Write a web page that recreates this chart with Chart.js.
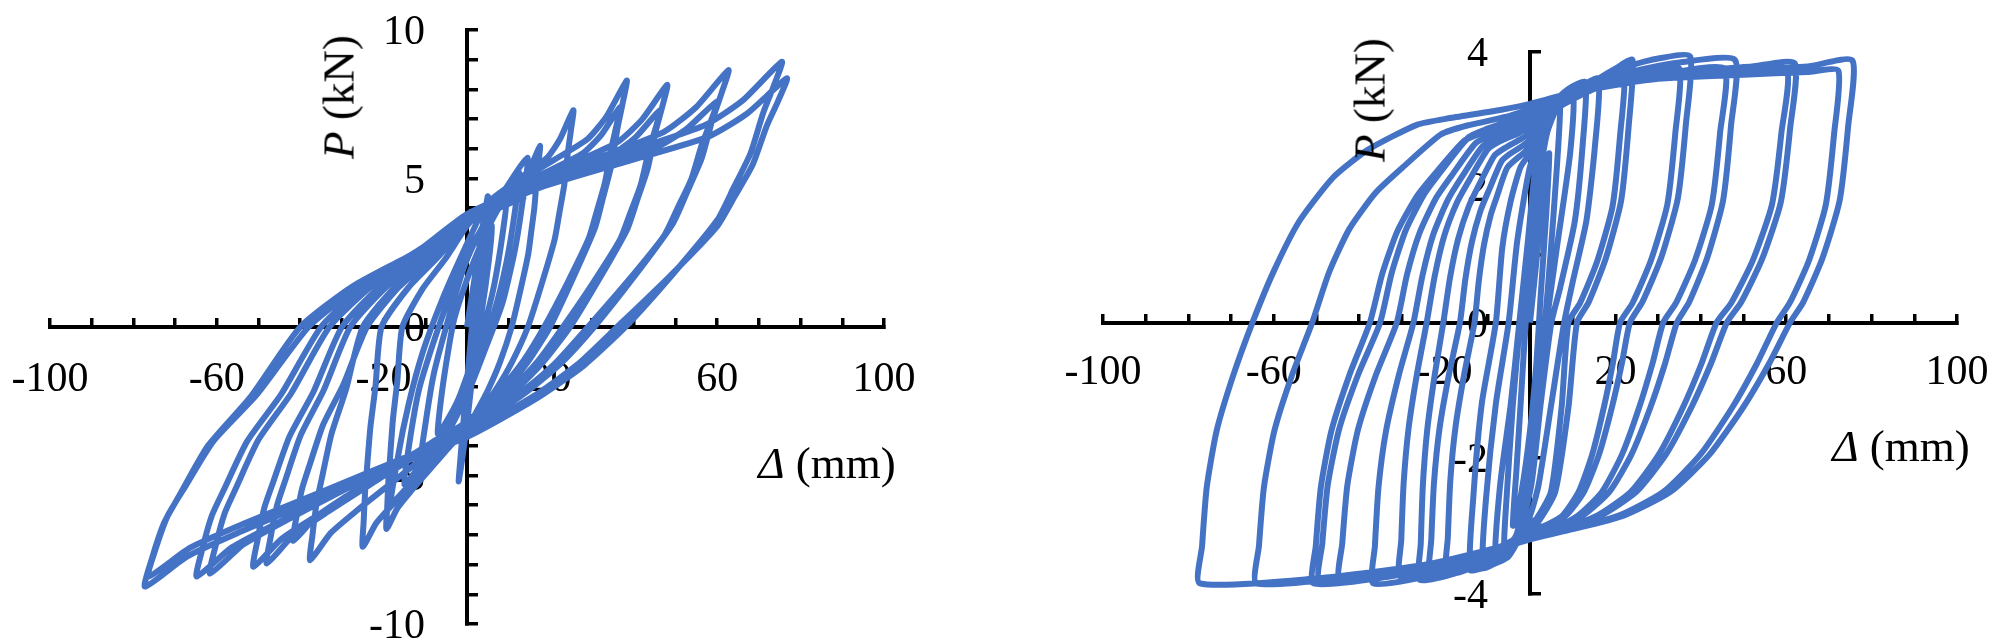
<!DOCTYPE html>
<html>
<head>
<meta charset="utf-8">
<script src="https://cdn.jsdelivr.net/npm/chart.js@4.4.1/dist/chart.umd.min.js"></script>
<style>
html,body{margin:0;padding:0;width:2000px;height:644px;overflow:hidden;background:#fff;}
.wrap{position:absolute;}
canvas{display:block;}
.t{position:absolute;font-family:'Liberation Serif','Times New Roman',serif;font-size:45px;color:#000;white-space:nowrap;line-height:1;transform:translate(-50%,-50%);}
.rot{transform:translate(-50%,-50%) rotate(-90deg);}
</style>
</head>
<body>
<div class="wrap" style="left:-100px;top:-100px;width:1200px;height:844px"><canvas id="chartA" width="1200" height="844"></canvas></div>
<div class="wrap" style="left:900px;top:-100px;width:1200px;height:844px"><canvas id="chartB" width="1200" height="844"></canvas></div>
<div class="t rot" style="left:339px;top:97px"><i>P</i> (kN)</div>
<div class="t" style="left:827px;top:463px"><i>Δ</i> (mm)</div>
<div class="t rot" style="left:1370px;top:100px"><i>P</i> (kN)</div>
<div class="t" style="left:1901px;top:446px"><i>Δ</i> (mm)</div>
<script>
// ---- tick labels ----
const xTickLabels = [-100, -60, -20, 20, 60, 100];
const yTickLabelsA = [-10, -5, 0, 5, 10];
const yTickLabelsB = [-4, -2, 0, 2, 4];

// ---- specimen A: displacement (mm), load (kN) ----
const hystA = [
[0,0],[2,1.8],[4,3.6],[5,4.4],[4.2,2.6],[3.2,0.9],[1.8,-1.0],[0.2,-3.0],[-1,-4.3],[-2,-5.2],[-1.5,-4.3],[-0.5,-2.6],[0.8,-0.6],[2,1.2],
[4,2.4],[6,3.4],[5.2,2.2],[3.5,0.5],[1.5,-1.0],[-2,-2.4],[-5,-3.2],[-7,-3.6],[-6.2,-2.4],[-4.5,-0.8],[-3,0.3],[0,1.6],
[2.5,2.5],[6,3.6],[9.5,4.4],[8.6,3.2],[6.5,1.4],[4,0],[1,-1.3],[-3,-2.8],[-7,-3.8],[-11,-4.5],[-10,-3.3],[-8,-1.6],[-5,0],[-1,1.9],
[2,2.9],[7,4.2],[12.5,5.2],[11.6,4.0],[9.5,2.2],[6.5,0.5],[3,-0.8],[-1,-2.2],[-6,-3.6],[-11,-4.6],[-15,-5.3],[-13.8,-3.9],[-11.5,-2.1],[-8,-0.5],[-4,1.1],[0,2.5],
[4,3.4],[9,4.6],[14.5,5.7],[13.6,4.5],[11.5,2.6],[8.5,0.8],[4.5,-0.7],[0,-2.3],[-6,-3.9],[-12,-5.0],[-18,-5.9],[-16.6,-4.4],[-14,-2.6],[-10.5,-0.8],[-6,0.9],[0,2.8],
[4.03,3.94],[9.45,4.53],[13.21,4.95],[15.31,5.4],[17.5,6.1],[17.14,5.53],[16.68,4.92],[16.14,4.0],[15.41,3.21],[14.69,2.46],[12.79,1.23],[10.7,0],[7.89,-1.19],[5.07,-2.11],[2.25,-2.86],[0,-3.4],[-3.86,-3.98],[-8.69,-4.76],[-13.51,-5.54],[-16.79,-6.12],[-19.3,-6.8],[-19.13,-6.07],[-18.84,-5.13],[-18.47,-4.43],[-17.76,-3.11],[-16.72,-1.83],[-15.5,0],[-10.62,1.29],[-5.12,2.31],[0,3.4],
[5.87,4.3],[13.77,5.12],[19.25,5.7],[22.31,6.33],[25.5,7.3],[24.92,6.62],[24.19,5.88],[23.32,4.78],[22.15,3.84],[21.0,2.94],[17.95,1.47],[14.6,0],[10.76,-1.19],[6.92,-2.11],[3.07,-2.86],[0,-3.4],[-5,-4.08],[-11.25,-5.0],[-17.5,-5.92],[-21.75,-6.6],[-25,-7.4],[-24.8,-6.6],[-24.45,-5.59],[-24.02,-4.82],[-23.18,-3.39],[-21.94,-1.99],[-20.5,0],[-14.04,1.33],[-6.77,2.38],[0,3.5],
[8.81,4.6],[20.68,5.61],[28.92,6.33],[33.51,7.1],[38.3,8.3],[37.32,7.53],[36.09,6.69],[34.62,5.44],[32.65,4.37],[30.7,3.34],[25.55,1.68],[19.9,0],[14.67,-1.16],[9.43,-2.05],[4.18,-2.77],[0,-3.3],[-7.52,-4.07],[-16.92,-5.12],[-26.32,-6.17],[-32.71,-6.94],[-37.6,-7.85],[-37.05,-7.0],[-36.06,-5.93],[-34.85,-5.12],[-32.5,-3.6],[-29.03,-2.11],[-25,0],[-17.13,1.37],[-8.25,2.45],[0,3.6],
[8.44,4.47],[19.82,5.27],[27.71,5.84],[32.11,6.45],[36.7,7.4],[35.74,6.71],[34.52,5.96],[33.06,4.85],[31.11,3.89],[29.18,2.98],[24.09,1.49],[18.5,0],[13.63,-1.12],[8.77,-1.98],[3.89,-2.69],[0,-3.2],[-8.34,-3.88],[-18.77,-4.8],[-29.19,-5.72],[-36.28,-6.4],[-41.7,-7.2],[-40.92,-6.42],[-39.54,-5.44],[-37.84,-4.69],[-34.53,-3.3],[-29.66,-1.94],[-24,0],[-16.44,1.33],[-7.92,2.38],[0,3.5],
[11.04,4.57],[25.92,5.55],[36.24,6.24],[42.0,6.99],[48,8.15],[46.77,7.39],[45.2,6.57],[43.34,5.34],[40.85,4.29],[38.38,3.28],[31.85,1.65],[24.7,0],[18.2,-1.19],[11.71,-2.11],[5.19,-2.86],[0,-3.4],[-10.24,-4.19],[-23.04,-5.27],[-35.84,-6.34],[-44.54,-7.14],[-51.2,-8.07],[-50.27,-7.2],[-48.61,-6.09],[-46.58,-5.26],[-42.61,-3.7],[-36.78,-2.17],[-30,0],[-20.55,1.41],[-9.9,2.52],[0,3.7],
[10.65,4.53],[25.0,5.28],[34.96,5.82],[40.51,6.4],[46.3,7.3],[45.07,6.62],[43.5,5.88],[41.64,4.78],[39.15,3.84],[36.68,2.94],[30.15,1.47],[23,0],[16.95,-1.16],[10.9,-2.05],[4.83,-2.77],[0,-3.3],[-9.6,-4.09],[-21.6,-5.16],[-33.6,-6.24],[-41.76,-7.03],[-48,-7.96],[-47.12,-7.1],[-45.56,-6.01],[-43.64,-5.19],[-39.9,-3.65],[-34.4,-2.14],[-28,0],[-19.18,1.37],[-9.24,2.45],[0,3.6],
[14.42,4.76],[33.86,5.82],[47.34,6.58],[54.86,7.39],[62.7,8.65],[60.99,7.85],[58.84,6.97],[56.26,5.67],[52.81,4.55],[49.4,3.49],[40.39,1.75],[30.5,0],[22.48,-1.23],[14.46,-2.17],[6.41,-2.94],[0,-3.5],[-12.96,-4.33],[-29.16,-5.46],[-45.36,-6.59],[-56.38,-7.42],[-64.8,-8.4],[-63.49,-7.49],[-61.16,-6.34],[-58.3,-5.48],[-52.73,-3.85],[-44.54,-2.26],[-35,0],[-23.98,1.44],[-11.55,2.58],[0,3.8],
[13.8,4.67],[32.4,5.47],[45.3,6.04],[52.5,6.65],[60,7.6],[58.36,6.89],[56.28,6.13],[53.8,4.98],[50.48,4.0],[47.2,3.06],[38.52,1.54],[29,0],[21.37,-1.19],[13.75,-2.11],[6.09,-2.86],[0,-3.4],[-12.32,-4.23],[-27.72,-5.36],[-43.12,-6.49],[-53.59,-7.32],[-61.6,-8.3],[-60.34,-7.4],[-58.11,-6.27],[-55.37,-5.41],[-50.02,-3.8],[-42.15,-2.23],[-33,0],[-22.61,1.41],[-10.89,2.52],[0,3.7],
[17.37,4.9],[40.77,6.0],[57.0,6.79],[66.06,7.62],[75.5,8.93],[73.51,8.1],[71.0,7.2],[68.0,5.85],[63.99,4.7],[60.01,3.6],[49.51,1.8],[38,0],[28.01,-1.3],[18.01,-2.29],[7.98,-3.11],[0,-3.7],[-15.44,-4.56],[-34.74,-5.72],[-54.04,-6.88],[-67.16,-7.73],[-77.2,-8.74],[-75.56,-7.8],[-72.66,-6.6],[-69.09,-5.7],[-62.13,-4.0],[-51.9,-2.35],[-40,0],[-27.4,1.37],[-13.2,2.45],[0,3.6],
[17.64,4.7],[41.42,5.7],[57.91,6.41],[67.11,7.18],[76.7,8.37],[74.54,7.59],[71.82,6.75],[68.56,5.48],[64.21,4.4],[59.89,3.37],[48.49,1.69],[36,0],[26.53,-1.26],[17.06,-2.23],[7.56,-3.02],[0,-3.6],[-15.28,-4.42],[-34.38,-5.52],[-53.48,-6.62],[-66.47,-7.44],[-76.4,-8.4],[-74.71,-7.49],[-71.72,-6.34],[-68.03,-5.48],[-60.85,-3.85],[-50.29,-2.26],[-38,0],[-26.03,1.33],[-12.54,2.38],[0,3.5],[14,4.4]
];

// ---- specimen B: displacement (mm), load (kN) ----
const hystB = [
[0,0],[1.5,0.9],[3,1.8],[4.5,2.5],[3.8,1.6],[2.5,0.4],[1.5,-0.6],[0,-1.6],[-2,-2.5],[-4,-3.0],[-3.2,-2.2],[-2,-1.0],[-1,0],
[0.5,1.0],[2,2.0],[4,2.8],[7,3.25],[6.3,2.3],[4.8,1.0],[3.5,0],[1.5,-1.2],[0,-2.1],[-3,-3.1],[-6,-3.4],[-5.5,-2.6],[-4,-1.2],[-2.3,0],
[0,1.3],[1.6,2.5],[5,3.2],[10,3.4],[9.4,2.5],[6.5,1.2],[3.9,0],[2,-1.2],[0,-2.4],[-3,-3.2],[-8,-3.5],[-7,-2.4],[-4.5,-1.2],[-2.5,0],
[-0.5,1.2],[1.5,2.4],[5,3.2],[9,3.45],[13,3.55],[12.3,2.6],[10.5,1.5],[7,0.5],[5,0],[2.5,-1.2],[0.3,-2.4],[-3,-3.2],[-7,-3.5],[-11,-3.62],[-10.3,-2.6],[-8,-1.2],[-5,0],
[-3,1.2],[0,2.3],[4,3.0],[10,3.4],[16,3.6],[15.2,2.6],[13.2,1.5],[10,0.6],[8,0],[5,-1.2],[2,-2.4],[0,-2.85],[-5,-3.45],[-10,-3.6],[-14,-3.65],[-13.3,-2.6],[-11.3,-1.2],[-8,0],
[-6.5,1.1],[-4.5,1.8],[-2.2,2.3],[0,2.5],[5,3.05],[10,3.35],[16,3.6],[20,3.75],[24,3.88],[23.12,2.91],[21.34,1.8],[17.76,0.95],[13.73,0.3],[11,0],[9.0,-1.25],[5.9,-2.5],[1.8,-2.95],[0,-3.0],[-5.85,-3.39],[-12.68,-3.6],[-19.5,-3.7],[-19.24,-3.17],[-18.66,-2.33],[-17.44,-1.54],[-15.38,-0.75],[-13,0],
[-12.0,0.61],[-10.8,1.14],[-9.2,1.59],[-7.6,1.89],[-5.3,2.29],[-1.4,2.51],[0,2.6],[6,3.15],[12,3.45],[17,3.6],[22,3.7],[21.12,2.78],[19.34,1.72],[15.76,0.91],[11.73,0.29],[9,0],[7.4,-1.25],[4.9,-2.5],[1.5,-2.9],[0,-2.95],[-7.02,-3.39],[-15.21,-3.63],[-23.4,-3.75],[-23.12,-3.21],[-22.49,-2.37],[-21.18,-1.56],[-18.96,-0.76],[-16.4,0],
[-15.14,0.64],[-13.61,1.19],[-11.61,1.65],[-9.59,1.96],[-6.69,2.38],[-4.72,2.49],[-1.77,2.61],[0,2.7],[8,3.25],[16,3.55],[24,3.8],[30,3.9],[37.5,3.93],[36.54,2.95],[34.61,1.83],[30.73,0.96],[26.36,0.31],[23.4,0],[21.53,-0.6],[19.19,-1.25],[16.15,-1.95],[12.64,-2.5],[8.42,-2.85],[3.84,-3.0],[0,-3.05],[-7.74,-3.46],[-16.77,-3.69],[-25.8,-3.8],[-25.58,-3.26],[-25.09,-2.4],[-24.06,-1.58],[-22.31,-0.77],[-20.3,0],
[-18.74,0.66],[-16.85,1.23],[-14.37,1.71],[-11.88,2.04],[-8.28,2.47],[-5.85,2.58],[-2.19,2.71],[0,2.8],[10,3.35],[20,3.6],[28,3.7],[35,3.75],[34.05,2.81],[32.15,1.74],[28.33,0.92],[24.02,0.29],[21.1,0],[19.41,-0.6],[17.3,-1.25],[14.56,-1.95],[11.39,-2.5],[7.6,-2.85],[3.46,-3.0],[0,-3.05],[-9.12,-3.43],[-19.76,-3.65],[-30.4,-3.75],[-30.15,-3.21],[-29.59,-2.37],[-28.43,-1.56],[-26.47,-0.76],[-24.2,0],
[-22.34,0.68],[-20.09,1.28],[-17.13,1.77],[-14.16,2.11],[-9.87,2.56],[-6.97,2.68],[-2.61,2.8],[0,2.9],[12,3.4],[25,3.72],[35,3.84],[48,3.88],[47.08,2.91],[45.21,1.8],[41.47,0.95],[37.26,0.3],[34.4,0],[31.65,-0.6],[28.21,-1.25],[23.74,-1.95],[18.58,-2.5],[12.38,-2.85],[5.64,-3.05],[0,-3.1],[-11.01,-3.51],[-23.86,-3.74],[-36.7,-3.85],[-36.32,-3.3],[-35.48,-2.43],[-33.72,-1.6],[-30.74,-0.78],[-27.3,0],
[-25.2,0.69],[-22.66,1.3],[-19.33,1.8],[-15.97,2.15],[-11.14,2.6],[-7.86,2.72],[-2.95,2.85],[0,2.95],[15,3.45],[30,3.65],[45.5,3.75],[44.53,2.81],[42.57,1.74],[38.64,0.92],[34.2,0.29],[31.2,0],[28.7,-0.6],[25.58,-1.25],[21.53,-1.95],[16.85,-2.5],[11.23,-2.85],[5.12,-3.05],[0,-3.1],[-13.35,-3.49],[-28.93,-3.7],[-44.5,-3.8],[-43.97,-3.26],[-42.77,-2.4],[-40.28,-1.58],[-36.07,-0.77],[-31.2,0],
[-28.8,0.71],[-25.9,1.32],[-22.09,1.83],[-18.25,2.18],[-12.73,2.65],[-8.99,2.77],[-3.37,2.9],[0,3.0],[12,3.4],[25,3.6],[40,3.72],[52,3.78],[62,3.83],[60.92,2.87],[58.74,1.78],[54.37,0.94],[49.44,0.3],[46.1,0],[42.41,-0.6],[37.8,-1.25],[31.81,-1.95],[24.89,-2.5],[16.6,-2.85],[7.56,-3.05],[0,-3.15],[-15.21,-3.53],[-32.96,-3.75],[-50.7,-3.85],[-50.17,-3.3],[-48.98,-2.43],[-46.52,-1.6],[-42.33,-0.78],[-37.5,0],
[-34.61,0.72],[-31.13,1.34],[-26.55,1.86],[-21.94,2.22],[-15.3,2.69],[-10.8,2.81],[-4.05,2.95],[0,3.05],[15,3.45],[30,3.62],[45,3.7],[60,3.74],[58.89,2.81],[56.66,1.74],[52.18,0.92],[47.12,0.29],[43.7,0],[40.2,-0.6],[35.83,-1.25],[30.15,-1.95],[23.6,-2.5],[15.73,-2.85],[7.17,-3.05],[0,-3.15],[-14.76,-3.51],[-31.98,-3.71],[-49.2,-3.8],[-48.64,-3.26],[-47.37,-2.4],[-44.73,-1.58],[-40.26,-0.77],[-35.1,0],
[-32.4,0.73],[-29.13,1.36],[-24.85,1.89],[-20.53,2.26],[-14.32,2.74],[-10.11,2.86],[-3.79,3.0],[0,3.1],[12,3.45],[25,3.65],[45,3.72],[65,3.78],[75.5,3.87],[74.51,2.9],[72.51,1.8],[68.49,0.95],[63.97,0.3],[60.9,0],[56.03,-0.6],[49.94,-1.25],[42.02,-1.95],[32.89,-2.5],[21.92,-2.85],[9.99,-3.05],[0,-3.2],[-19.2,-3.56],[-41.6,-3.75],[-64,-3.85],[-63.48,-3.3],[-62.31,-2.43],[-59.88,-1.6],[-55.76,-0.78],[-51,0],
[-47.07,0.74],[-42.33,1.38],[-36.11,1.92],[-29.84,2.29],[-20.81,2.78],[-14.69,2.91],[-5.51,3.04],[0,3.15],[15,3.45],[30,3.6],[50,3.66],[65,3.7],[72.2,3.72],[71.22,2.79],[69.25,1.73],[65.29,0.91],[60.82,0.29],[57.8,0],[53.18,-0.6],[47.4,-1.25],[39.88,-1.95],[31.21,-2.5],[20.81,-2.85],[9.48,-3.05],[0,-3.2],[-23.19,-3.56],[-50.25,-3.78],[-77.3,-3.85],[-76.8,-3.3],[-75.7,-2.43],[-73.4,-1.6],[-69.5,-0.78],[-65,0],[-60,0.76],[-54,1.5],[-46,2.15],[-38,2.55],[-26.5,2.92],[-18.7,3.02],[-7,3.14],[0,3.23],[10,3.4],[20,3.55]
];

const FONT = "'Liberation Serif', 'Times New Roman', serif";

function makeChart(id, pts, yMin, yMax, yLabels, pad, xPad) {
  new Chart(document.getElementById(id), {
    type: 'scatter',
    data: {
      datasets: [{
        data: pts.map(p => ({x: p[0], y: p[1]})),
        showLine: true,
        borderColor: '#4472C4',
        borderWidth: 6,
        pointRadius: 0,
        pointHoverRadius: 0,
        tension: 0.2,
        fill: false
      }]
    },
    options: {
      responsive: false,
      animation: false,
      events: [],
      layout: {padding: pad},
      plugins: {legend: {display: false}, tooltip: {enabled: false}},
      scales: {
        x: {
          type: 'linear',
          position: {y: 0},
          min: -100, max: 100,
          grid: {drawOnChartArea: false, drawTicks: true, tickLength: -11, color: '#000', lineWidth: 3.5},
          border: {display: true, color: '#000', width: 4},
          ticks: {
            stepSize: 10, autoSkip: false, maxRotation: 0, minRotation: 0,
            padding: xPad, color: '#000',
            font: {family: FONT, size: 42},
            callback: v => xTickLabels.includes(v) ? String(v) : ''
          }
        },
        y: {
          type: 'linear',
          position: {x: 0},
          min: yMin, max: yMax,
          grid: {drawOnChartArea: false, drawTicks: true, tickLength: -13, color: '#000', lineWidth: 3.5},
          border: {display: true, color: '#000', width: 4},
          ticks: {
            stepSize: 1, autoSkip: false, labelOffset: 3, color: '#000',
            font: {family: FONT, size: 42},
            callback: v => yLabels.includes(v) ? String(v) + '    ' : ''
          }
        }
      }
    }
  });
}

makeChart('chartA', hystA, -10, 10, yTickLabelsA, {left: 150, right: 216, top: 130, bottom: 120}, 39);
makeChart('chartB', hystB, -4, 4, yTickLabelsB, {left: 203, right: 143, top: 151.7, bottom: 150.5}, 36);
</script>
</body>
</html>
